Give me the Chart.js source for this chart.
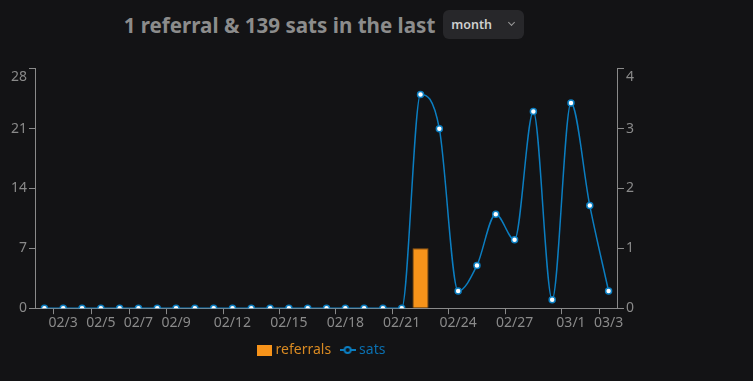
<!DOCTYPE html>
<html>
<head>
<meta charset="utf-8">
<script src="https://cdn.jsdelivr.net/npm/chart.js@4"></script>
<style>
  html, body { margin: 0; padding: 0; background: #131315; width: 753px; height: 381px; overflow: hidden; }
  body { font-family: "Noto Sans", sans-serif; position: relative; }
  .cabecalho {
    position: absolute; left: 0; top: 9px; width: 648px; height: 31px;
    display: flex; align-items: center; justify-content: center; gap: 8px; z-index: 1;
  }
  .titulo { color: #8c8c8c; font-size: 20.6px; font-weight: 700; }
  .seletor {
    display: flex; align-items: center; box-sizing: border-box;
    width: 81px; height: 29px; border-radius: 6px; background: #27272a;
    padding-left: 8px; color: #cfcfcf; font-size: 12.5px; font-weight: 600;
  }
  .seletor .seta {
    margin-left: 17px; width: 4px; height: 4px;
    border-right: 1.5px solid #9a9a9a; border-bottom: 1.5px solid #9a9a9a;
    transform: rotate(45deg); margin-top: -4px;
  }
  .area { position: absolute; left: 0; top: 50px; width: 650px; height: 317px; }
</style>
</head>
<body>
<div class="cabecalho">
  <span class="titulo">1 referral &amp; 139 sats in the last</span>
  <div class="seletor">month<span class="seta"></span></div>
</div>
<div class="area"><canvas id="grafico"></canvas></div>
<script>
// dias do período (fev/2024 tem 29 dias)
const dias = [
  '02/2', '02/3', '02/4', '02/5', '02/6', '02/7', '02/8', '02/9', '02/10', '02/11',
  '02/12', '02/13', '02/14', '02/15', '02/16', '02/17', '02/18', '02/19', '02/20', '02/21',
  '02/22', '02/23', '02/24', '02/25', '02/26', '02/27', '02/28', '02/29', '03/1', '03/2', '03/3'
];

// rótulos que aparecem no eixo x
const rotulosVisiveis = ['02/3', '02/5', '02/7', '02/9', '02/12', '02/15', '02/18', '02/21', '02/24', '02/27', '03/1', '03/3'];

const referrals = [
  0, 0, 0, 0, 0, 0, 0, 0, 0, 0,
  0, 0, 0, 0, 0, 0, 0, 0, 0, 0,
  1, 0, 0, 0, 0, 0, 0, 0, 0, 0, 0
];

const sats = [
  0, 0, 0, 0, 0, 0, 0, 0, 0, 0,
  0, 0, 0, 0, 0, 0, 0, 0, 0, 0,
  25, 21, 2, 5, 11, 8, 23, 1, 24, 12, 2
];

const satsTicksMax = 28;
const referralsTicksMax = 4;

const LARANJA = '#f7931a';
const AZUL = '#0b7ec1';
const CINZA = '#8a8a8a';

/* ── Ícones da legenda ───────────────────────── */

function iconeRetangulo() {
  const c = document.createElement('canvas');
  c.width = 15; c.height = 11;
  const g = c.getContext('2d');
  g.fillStyle = LARANJA;
  g.fillRect(0, 0, 15, 11);
  return c;
}

function iconeLinha() {
  const c = document.createElement('canvas');
  c.width = 16; c.height = 10;
  const g = c.getContext('2d');
  g.strokeStyle = AZUL;
  g.lineWidth = 2;
  g.beginPath(); g.moveTo(0, 5); g.lineTo(16, 5); g.stroke();
  g.beginPath(); g.arc(8, 5, 3, 0, Math.PI * 2);
  g.fillStyle = '#131315'; g.fill(); g.stroke();
  return c;
}

const visivel = new Set(rotulosVisiveis);
const fonteEixo = { family: 'Noto Sans', size: 14 };

// o rótulo do topo fica um pouco abaixo da marca (linha vazia antes dele)
function rotuloY(max) {
  return valor => (valor === max ? ['', String(valor)] : String(valor));
}

new Chart(document.getElementById('grafico'), {
  type: 'bar',
  data: {
    labels: dias,
    datasets: [
      {
        type: 'bar',
        label: 'referrals',
        data: referrals,
        yAxisID: 'yRef',
        backgroundColor: LARANJA,
        borderColor: '#9c5d12',
        borderWidth: ctx => (ctx.raw ? 1 : 0),
        barPercentage: 0.95,
        categoryPercentage: 0.9,
        order: 2,
      },
      {
        type: 'line',
        label: 'sats',
        data: sats,
        yAxisID: 'ySats',
        borderColor: AZUL,
        borderWidth: 1.5,
        cubicInterpolationMode: 'monotone',
        pointRadius: 3,
        pointBackgroundColor: '#ffffff',
        pointBorderColor: AZUL,
        pointBorderWidth: 1.5,
        order: 1,
      },
    ],
  },
  options: {
    responsive: true,
    maintainAspectRatio: false,
    animation: false,
    layout: { padding: { left: 9, right: 14, top: 4, bottom: 0 } },
    plugins: {
      tooltip: { enabled: false },
      legend: {
        position: 'bottom',
        labels: {
          usePointStyle: true,
          boxWidth: 9,
          boxHeight: 11,
          padding: 12,
          font: { family: 'Noto Sans', size: 14 },
          generateLabels(chart) {
            return [
              { text: 'referrals', pointStyle: iconeRetangulo(), fillStyle: LARANJA, strokeStyle: LARANJA, lineWidth: 0, fontColor: '#d98a22', datasetIndex: 0, hidden: false },
              { text: 'sats', pointStyle: iconeLinha(), fillStyle: AZUL, strokeStyle: AZUL, lineWidth: 0, fontColor: '#0b70b0', datasetIndex: 1, hidden: false },
            ];
          },
        },
      },
    },
    scales: {
      x: {
        offset: true,
        border: { color: CINZA },
        grid: {
          drawOnChartArea: false,
          tickLength: 6,
          tickColor: ctx => (visivel.has(dias[ctx.index]) ? CINZA : 'transparent'),
        },
        ticks: {
          color: CINZA,
          autoSkip: false,
          maxRotation: 0,
          padding: 0,
          font: fonteEixo,
          callback(valor) {
            const r = this.getLabelForValue(valor);
            return visivel.has(r) ? r : '';
          },
        },
      },
      ySats: {
        position: 'left',
        min: 0,
        max: satsTicksMax,
        border: { color: CINZA },
        grid: { drawOnChartArea: false, tickLength: 6, tickColor: CINZA },
        ticks: { stepSize: 7, color: CINZA, padding: 2, font: fonteEixo, callback: rotuloY(satsTicksMax) },
      },
      yRef: {
        position: 'right',
        min: 0,
        max: referralsTicksMax,
        border: { color: CINZA },
        grid: { drawOnChartArea: false, tickLength: 6, tickColor: CINZA },
        ticks: { stepSize: 1, color: CINZA, padding: 2, font: fonteEixo, callback: rotuloY(referralsTicksMax) },
      },
    },
  },
});
</script>
</body>
</html>
